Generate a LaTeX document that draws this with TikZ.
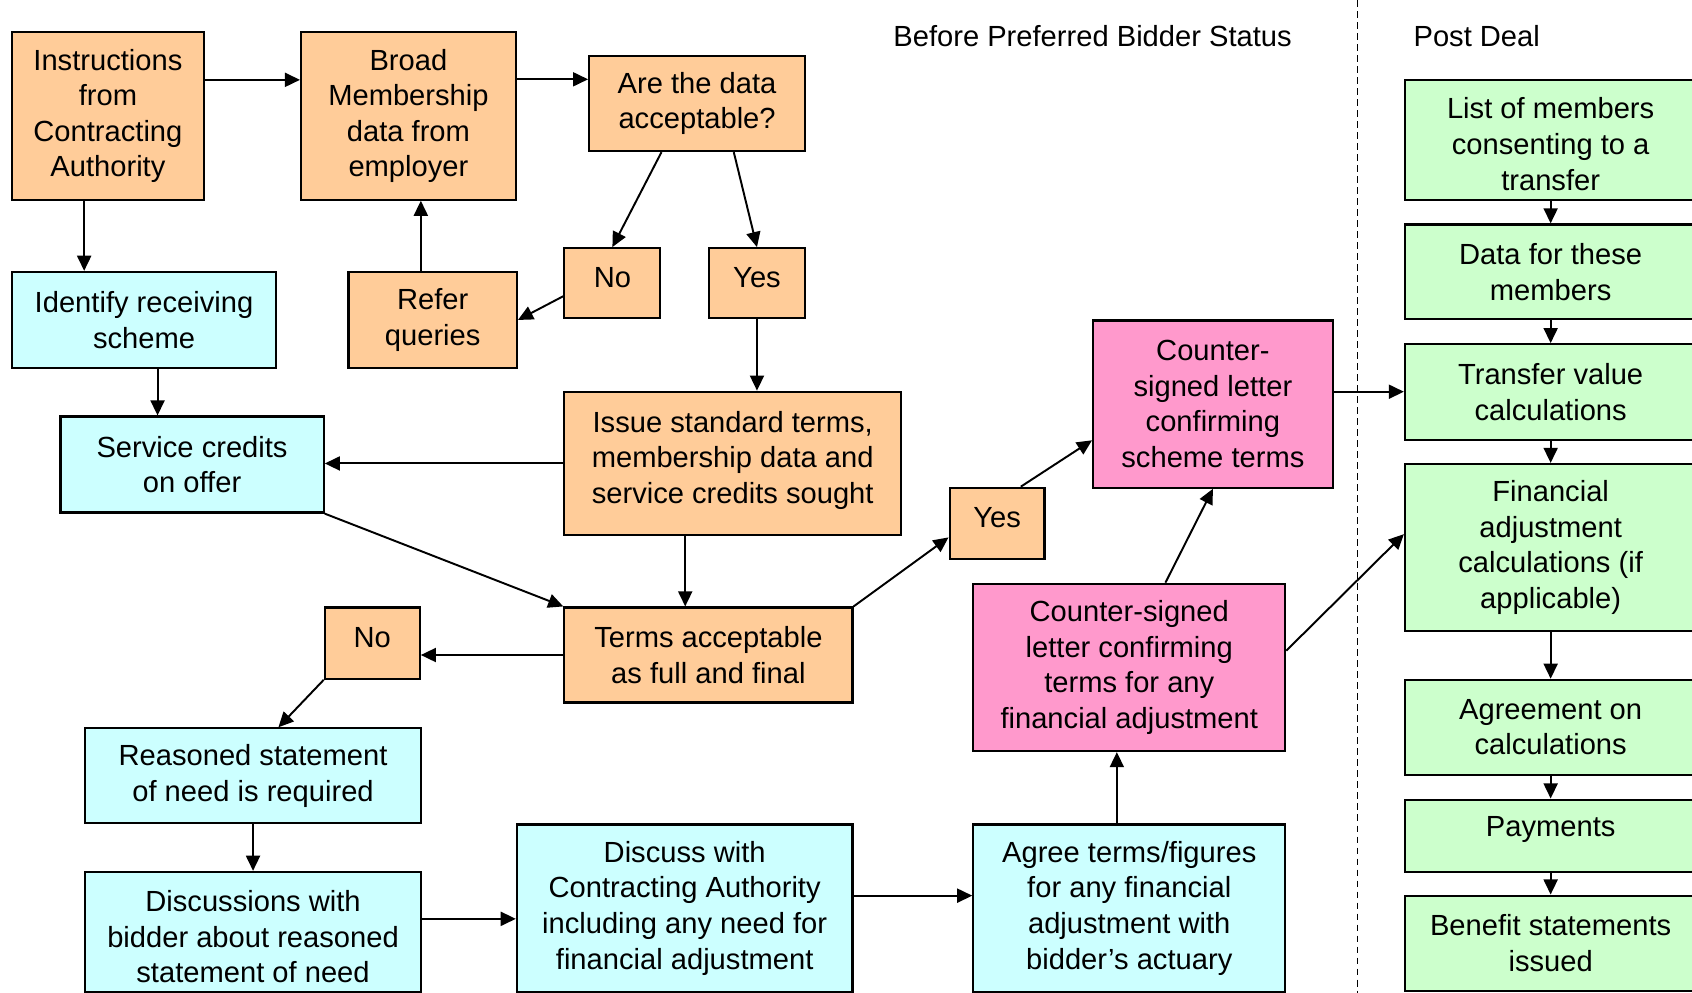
\documentclass[tikz,border=0pt]{standalone}
\usepackage{fontspec}
\setmainfont{Liberation Sans}
\usepackage{tikz}
\usetikzlibrary{arrows.meta,calc}
\definecolor{peach}{HTML}{FFCC99}
\definecolor{aqua}{HTML}{CCFFFF}
\definecolor{rose}{HTML}{FF99CC}
\definecolor{mint}{HTML}{CCFFCC}

\begin{document}
\begin{tikzpicture}[x=0.5pt,y=-0.5pt,
  box/.style={draw=black,line width=1pt,align=center,inner sep=2pt,font=\fontsize{13.5}{16.5}\selectfont},
  ob/.style={box,fill=peach}, cb/.style={box,fill=aqua}, pb/.style={box,fill=rose}, gb/.style={box,fill=mint},
  head/.style={font=\fontsize{13.5}{16.5}\selectfont},
  arr/.style={line width=0.9pt,-{Triangle[length=7pt,width=6.5pt]}}]
\useasboundingbox (0,0) rectangle (1568,920);
\node[head] (before) at (1012.5,33) {Before Preferred Bidder Status};
\node[head] (post) at (1368.5,33) {Post Deal};
\coordinate (divtop) at (1258,0);
\coordinate (divbot) at (1258,920);
\draw[black,line width=0.8pt,dash pattern=on 3.2pt off 1.9pt] (divtop) -- (divbot);
\node[ob,minimum width=89pt,minimum height=77.5pt] (instr) at (100,107.5) {Instructions\\from\\Contracting\\Authority};
\node[ob,minimum width=99.5pt,minimum height=77.5pt] (broad) at (378.5,107.5) {Broad\\Membership\\data from\\employer};
\node[ob,minimum width=100pt,minimum height=44pt] (accept) at (646,96) {Are the data\\acceptable?};
\node[ob,minimum width=44.5pt,minimum height=32.5pt,text depth=5.5pt] (noA) at (567.5,262.5) {No};
\node[ob,minimum width=44.5pt,minimum height=32.5pt,text depth=5.5pt] (yesA) at (701.5,262.5) {Yes};
\node[ob,minimum width=78pt,minimum height=44.5pt] (refer) at (401,296.5) {Refer\\queries};
\node[cb,minimum width=122.5pt,minimum height=44.5pt] (ident) at (133.5,296.5) {Identify receiving\\scheme};
\node[cb,minimum width=122pt,minimum height=44.5pt] (credits) at (178,430.5) {Service credits\\on offer};
\node[ob,minimum width=156pt,minimum height=66.5pt,text depth=5.8pt] (issue) at (679,429.5) {Issue standard terms,\\membership data and\\service credits sought};
\node[ob,minimum width=133.5pt,minimum height=44pt] (terms) at (656.5,607) {Terms acceptable\\as full and final};
\node[ob,minimum width=44pt,minimum height=33pt,text depth=5.5pt] (noB) at (345,596) {No};
\node[ob,minimum width=44pt,minimum height=33pt,text depth=5.5pt] (yesB) at (924,485) {Yes};
\node[pb,minimum width=111pt,minimum height=77.5pt] (letterA) at (1124,374.5) {Counter-\\signed letter\\confirming\\scheme terms};
\node[pb,minimum width=144.5pt,minimum height=77.5pt] (letterB) at (1046.5,618.5) {Counter-signed\\letter confirming\\terms for any\\financial adjustment};
\node[cb,minimum width=155.5pt,minimum height=44pt] (reason) at (234.5,719) {Reasoned statement\\of need is required};
\node[cb,minimum width=155.5pt,minimum height=55.5pt,text height=47.3pt] (talks) at (234.5,863.5) {Discussions with\\bidder about reasoned\\statement of need};
\node[cb,minimum width=155.5pt,minimum height=77.5pt] (discuss) at (634.5,841.5) {Discuss with\\Contracting Authority\\including any need for\\financial adjustment};
\node[cb,minimum width=144.5pt,minimum height=77.5pt] (agree) at (1046.5,841.5) {Agree terms/figures\\for any financial\\adjustment with\\bidder’s actuary};
\node[gb,minimum width=135pt,minimum height=55.5pt,text height=46.8pt] (list) at (1437,129.5) {List of members\\consenting to a\\transfer};
\node[gb,minimum width=135pt,minimum height=44pt] (data) at (1437,252) {Data for these\\members};
\node[gb,minimum width=135pt,minimum height=44.5pt] (transfer) at (1437,363.5) {Transfer value\\calculations};
\node[gb,minimum width=135pt,minimum height=77.5pt] (fin) at (1437,507.5) {Financial\\adjustment\\calculations (if\\applicable)};
\node[gb,minimum width=135pt,minimum height=44pt] (agreement) at (1437,674) {Agreement on\\calculations};
\node[gb,minimum width=135pt,minimum height=33.5pt,text depth=9pt] (pay) at (1437,774.5) {Payments};
\node[gb,minimum width=135pt,minimum height=44pt] (benefit) at (1437,874) {Benefit statements\\issued};
\draw[arr] ([yshift=16.75pt]instr.east) -- ([yshift=16.75pt]instr.east -| broad.west);
\draw[arr] ([yshift=17pt]broad.east) -- ([yshift=17pt]broad.east -| accept.west);
\draw[arr] ([xshift=-11pt]instr.south) -- ([xshift=-11pt]instr.south |- ident.north);
\draw[arr] ([xshift=-16.5pt]accept.south) -- (noA.north);
\draw[arr] ([xshift=17pt]accept.south) -- (yesA.north);
\draw[arr] ([yshift=-6pt]noA.west) -- (refer.east);
\draw[arr] ([xshift=-5.5pt]refer.north) -- ([xshift=-5.5pt]refer.north |- broad.south);
\draw[arr] (yesA.south) -- (yesA.south |- issue.north);
\draw[arr] ([xshift=6.25pt]ident.south) -- ([xshift=6.25pt]ident.south |- credits.north);
\draw[arr] (issue.west) -- (issue.west -| credits.east);
\draw[arr] (credits.south east) -- (terms.north west);
\draw[arr] ([xshift=-22pt]issue.south) -- ([xshift=-22pt]issue.south |- terms.north);
\draw[arr] (terms.west) -- (terms.west -| noB.east);
\draw[arr] (noB.south west) -- ([xshift=11.75pt]reason.north);
\draw[arr] (reason.south) -- (talks.north);
\draw[arr] ([yshift=6pt]talks.east) -- ([yshift=6pt]talks.east -| discuss.west);
\draw[arr] ([yshift=5.75pt]discuss.east) -- ([yshift=5.75pt]discuss.east -| agree.west);
\draw[arr] ([xshift=-5.75pt]agree.north) -- ([xshift=-5.75pt]agree.north |- letterB.south);
\draw[arr] ([xshift=16.75pt]letterB.north) -- (letterA.south);
\draw[arr] (terms.north east) -- ([yshift=-6.5pt]yesB.west);
\draw[arr] ([xshift=11pt]yesB.north) -- ([yshift=-16.75pt]letterA.west);
\draw[arr] ([yshift=5.75pt]letterA.east) -- ([yshift=5.75pt]letterA.east -| transfer.west);
\draw[arr] ([yshift=7.75pt]letterB.east) -- ([yshift=6.25pt]fin.west);
\foreach \a/\b in {list/data,data/transfer,transfer/fin,fin/agreement,agreement/pay,pay/benefit}
  \draw[arr] (\a.south) -- (\b.north);
\end{tikzpicture}
\end{document}
